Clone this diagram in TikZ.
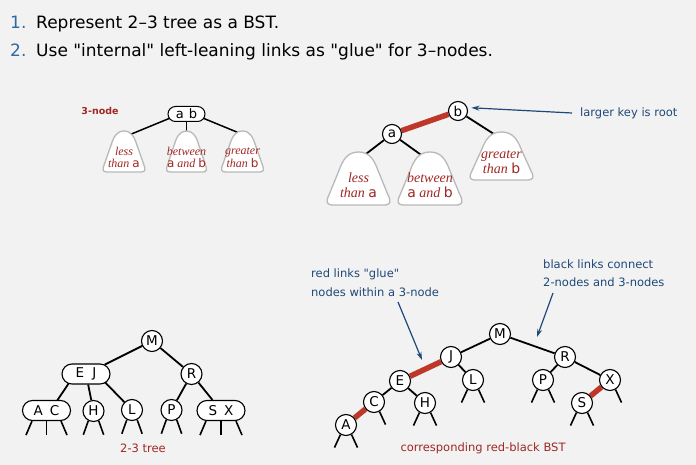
\documentclass[tikz,border=0pt]{standalone}
\usepackage{fontspec}
\setmainfont{DejaVu Sans}[Ligatures=TeXOff]
\newfontfamily\serifit{Liberation Serif}
\usetikzlibrary{shapes.misc,arrows.meta}
\definecolor{bgc}{RGB}{242,242,242}
\definecolor{numblue}{RGB}{45,105,165}
\definecolor{noteblue}{RGB}{30,72,120}
\definecolor{capred}{RGB}{160,40,35}
\definecolor{linkred}{RGB}{190,55,40}
\definecolor{trigray}{RGB}{185,185,185}
\newcommand\ky[1]{{\normalfont #1}}
% rounded triangle: #1 centre x, #2 top, #3 half width, #4 bottom
\newcommand\drawtri[4]{%
  \draw[tri] (#1,#2)
   .. controls (#1+0.35*#3,#2) and (#1+0.5*#3,#2+0.15*#4-0.15*#2) .. (#1+0.62*#3,#2+0.35*#4-0.35*#2)
   -- (#1+0.93*#3,#2+0.8*#4-0.8*#2)
   .. controls (#1+1.05*#3,#2+0.95*#4-0.95*#2) and (#1+1.02*#3,#4) .. (#1+0.8*#3,#4)
   -- (#1-0.8*#3,#4)
   .. controls (#1-1.02*#3,#4) and (#1-1.05*#3,#2+0.95*#4-0.95*#2) .. (#1-0.93*#3,#2+0.8*#4-0.8*#2)
   -- (#1-0.62*#3,#2+0.35*#4-0.35*#2)
   .. controls (#1-0.5*#3,#2+0.15*#4-0.15*#2) and (#1-0.35*#3,#2) .. (#1,#2) -- cycle;}
\pgfdeclarelayer{back}
\pgfdeclarelayer{edges}
\pgfsetlayers{back,edges,main}
\begin{document}
\begin{tikzpicture}[x=1pt,y=-1pt,
  key/.style={circle,draw,fill=white,line width=1.1pt,minimum size=21pt,inner sep=0pt,font=\fontsize{13.5}{13.5}\selectfont},
  keysm/.style={key,minimum size=19pt},
  twokey/.style={rounded rectangle,draw,fill=white,line width=1.1pt,minimum width=48pt,minimum height=20pt,inner sep=0pt,font=\fontsize{13.5}{13.5}\selectfont},
  edge/.style={line width=1.8pt,black},
  glue/.style={line width=5.5pt,linkred},
  stub/.style={line width=1.6pt,black},
  tri/.style={draw=trigray,line width=1.3pt,fill=white},
  note/.style={text=noteblue,inner sep=0pt,font=\fontsize{11.5}{18.5}\selectfont,align=left},
  caption/.style={text=capred,font=\fontsize{11.5}{15}\selectfont},
  pointer/.style={-{Stealth[length=8pt,width=5pt]},line width=1.2pt,noteblue},
  tritext/.style={text=capred,align=center,font=\serifit\itshape\fontsize{12}{11.5}\selectfont},
  tritextbig/.style={text=capred,align=center,font=\serifit\itshape\fontsize{14}{15}\selectfont},
  title/.style={anchor=base west,inner sep=0pt,font=\fontsize{17}{17}\selectfont}
]
\begin{pgfonlayer}{back}
\fill[bgc] (0,0) rectangle (696,465);
\end{pgfonlayer}
\useasboundingbox (0,0) rectangle (696,465);

% title
\node[title,text=numblue] (n1) at (10,28.5) {1.};
\node[title] (l1) at (36,28.5) {Represent 2–3 tree as a BST.};
\node[title,text=numblue] (n2) at (10,57) {2.};
\node[title] (l2) at (36,57) {Use "internal" left-leaning links as "glue" for 3–nodes.};

% top-left 3-node
\node[text=capred,font=\bfseries\fontsize{9.5}{10}\selectfont] (lab3) at (100,111) {3-node};
\node[twokey,minimum width=37pt,minimum height=15pt,line width=1pt,font=\fontsize{13}{13}\selectfont] (ab) at (186.5,114) {a\hspace{5pt}b};
\drawtri{124}{131}{21}{172}
\drawtri{186.5}{131}{20}{172}
\drawtri{242.5}{131}{21}{172}
\node[tritext] (tx1) at (124,157.5) {less\\than \ky{a}};
\node[tritext] (tx2) at (186.5,157.5) {between\\\ky{a} and \ky{b}};
\node[tritext] (tx3) at (242.5,157.5) {greater\\than \ky{b}};
\coordinate (tl1) at (129,135);
\coordinate (tl2) at (186.5,135);
\coordinate (tl3) at (244,135);
\begin{pgfonlayer}{edges}
\draw[edge,line width=1.5pt] ([xshift=-6.5pt]ab.center) -- (tl1);
\draw[edge,line width=1.5pt] (ab) -- (tl2);
\draw[edge,line width=1.5pt] ([xshift=6.5pt]ab.center) -- (tl3);
\end{pgfonlayer}

% top-right BST version
\node[keysm] (b) at (458,111) {b};
\node[keysm] (a) at (392,134) {a};
\drawtri{358.5}{152}{31.5}{205}
\drawtri{430}{152}{32}{205}
\drawtri{501.5}{132}{31.5}{180}
\node[tritextbig] (ty1) at (358.5,185.5) {less\\than \ky{a}};
\node[tritextbig] (ty2) at (430,185.5) {between\\\ky{a} and \ky{b}};
\node[tritextbig] (ty3) at (501.5,162.5) {greater\\than \ky{b}};
\coordinate (tr1) at (362,157);
\coordinate (tr2) at (424,157);
\coordinate (tr3) at (497,136);
\begin{pgfonlayer}{edges}
\draw[glue] (a) -- (b);
\draw[edge] (a) -- (tr1);
\draw[edge] (a) -- (tr2);
\draw[edge] (b) -- (tr3);
\end{pgfonlayer}
\node[note,anchor=west] (kr) at (580,113) {larger key is root};
\draw[pointer,shorten >=4pt] ([xshift=-8pt]kr.west) -- (b.20);

% bottom-left 2-3 tree
\node[key] (M2) at (152,341) {M};
\node[twokey] (EJ) at (86,374) {E\hspace{8pt}J};
\node[key] (R2) at (191.5,374) {R};
\node[twokey] (AC) at (46.5,410.5) {A\hspace{7pt}C};
\node[key] (H2) at (93.5,411) {H};
\node[key] (L2) at (132,410) {L};
\node[key] (P2) at (171.5,410) {P};
\node[twokey] (SX) at (221,410.5) {S\hspace{7pt}X};
\begin{pgfonlayer}{edges}
\draw[edge] (M2) -- (EJ);
\draw[edge] (M2) -- (R2);
\draw[edge] ([xshift=-11pt]EJ.center) -- ([xshift=4pt]AC.center);
\draw[edge] (EJ) -- (H2);
\draw[edge] ([xshift=11pt]EJ.center) -- (L2);
\draw[edge] (R2) -- (P2);
\draw[edge] (R2) -- (SX);
\draw[stub] ([xshift=-14.5pt]AC.south) -- ++(-6,14);
\draw[stub] (AC.south) -- ++(0,14);
\draw[stub] ([xshift=14.5pt]AC.south) -- ++(6,14);
\draw[stub] ([xshift=-15pt]SX.south) -- ++(-6,14);
\draw[stub] (SX.south) -- ++(0,14);
\draw[stub] ([xshift=15pt]SX.south) -- ++(6,14);
\foreach \n in {H2,L2,P2}{
  \draw[stub] (\n.-118) -- ++(-5,14);
  \draw[stub] (\n.-62) -- ++(5,14);
}
\end{pgfonlayer}
\node[caption] (cap1) at (143,448) {2-3 tree};

% bottom-right red-black BST
\node[key] (M) at (500,334) {M};
\node[key] (J) at (451,357) {J};
\node[key] (R) at (565,357) {R};
\node[key] (E) at (400,381) {E};
\node[key] (L) at (473,380) {L};
\node[key] (P) at (543,380) {P};
\node[key] (X) at (610,380) {X};
\node[key] (C) at (374,402) {C};
\node[key] (H) at (425,403) {H};
\node[key] (S) at (582,403) {S};
\node[key] (A) at (346,425) {A};
\begin{pgfonlayer}{edges}
\draw[edge] (M) -- (J);
\draw[edge] (M) -- (R);
\draw[edge] (J) -- (L);
\draw[edge] (R) -- (P);
\draw[edge] (R) -- (X);
\draw[edge] (E) -- (C);
\draw[edge] (E) -- (H);
\draw[glue] (J) -- (E);
\draw[glue] (C) -- (A);
\draw[glue] (X) -- (S);
\foreach \n in {A,H,L,P,S}{
  \draw[stub] (\n.-120) -- ++(-6,13);
  \draw[stub] (\n.-60) -- ++(6,13);
}
\draw[stub] (C.-60) -- ++(6,13);
\draw[stub] (X.-60) -- ++(6,13);
\end{pgfonlayer}
\node[caption] (cap2) at (483,448) {corresponding red-black BST};

\node[note,anchor=west] (rl) at (311,282.5) {red links "glue"\\nodes within a 3-node};
\coordinate (rls) at (398,302);
\coordinate (rle) at (422,360);
\draw[pointer] (rls) -- (rle);
\node[note,anchor=west] (bl) at (543,273) {black links connect\\2-nodes and 3-nodes};
\coordinate (bls) at (553,293);
\coordinate (ble) at (537,337);
\draw[pointer] (bls) -- (ble);
\end{tikzpicture}
\end{document}
